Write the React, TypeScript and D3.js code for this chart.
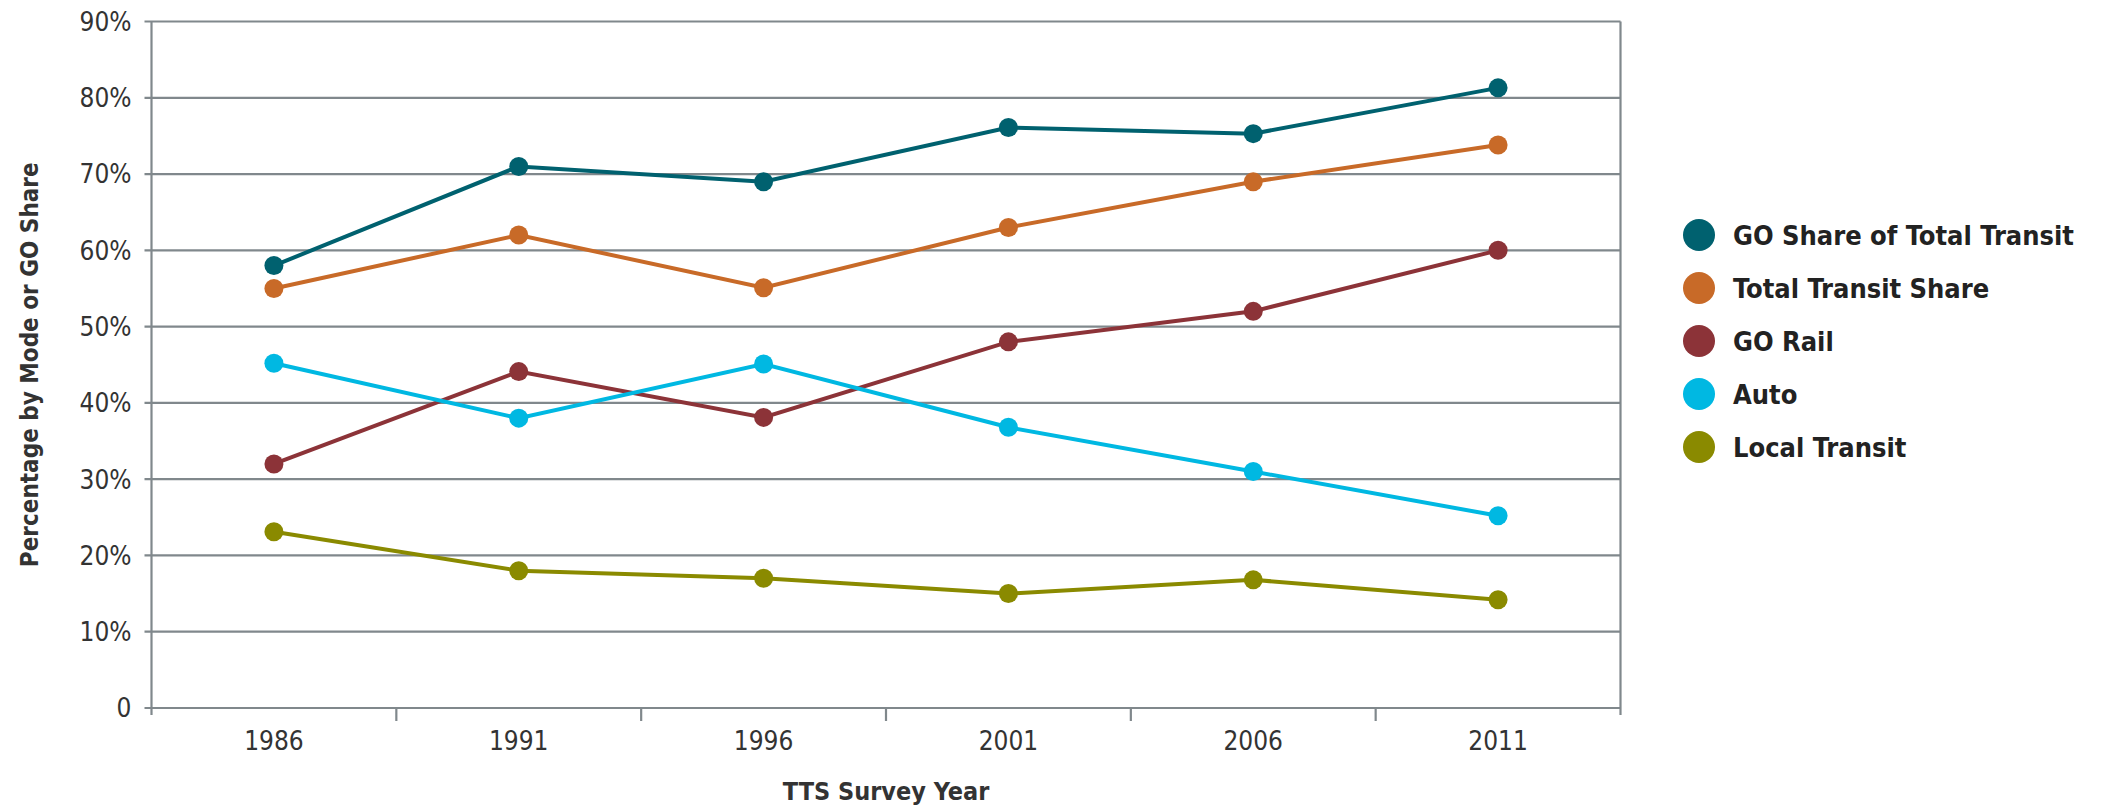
import React from "react";
import * as d3 from "d3";

const years = ["1986", "1991", "1996", "2001", "2006", "2011"];
const goShare = [58, 71, 69, 76.1, 75.3, 81.3];
const totalTransit = [55, 62, 55.1, 63, 69, 73.8];
const goRail = [32, 44.1, 38.1, 48, 52, 60];
const auto = [45.2, 38, 45.1, 36.8, 31, 25.2];
const localTransit = [23.1, 18, 17, 15, 16.8, 14.2];
const yTicks = [0, 10, 20, 30, 40, 50, 60, 70, 80, 90];

const seriesNames = ["GO Share of Total Transit", "Total Transit Share", "GO Rail", "Auto", "Local Transit"];
const seriesColors = ["#00616f", "#c86a28", "#8c3338", "#00b8e2", "#8a8a00"];
const seriesValues = [goShare, totalTransit, goRail, auto, localTransit];

const W = 2103;
const H = 807;
const left = 151.5;
const right = 1620.5;
const top = 21.5;
const bottom = 708;
const font = "'DejaVu Sans Condensed', 'Liberation Sans Narrow', sans-serif";
const gridColor = "#80888c";

export default function App() {
  const x = d3.scaleBand<string>().domain(years).range([left, right]).padding(0);
  const y = d3.scaleLinear().domain([0, 90]).range([bottom, top]);
  const cx = (yr: string) => (x(yr) as number) + x.bandwidth() / 2;
  const line = d3
    .line<number>()
    .x((_, i) => cx(years[i]))
    .y((d) => y(d));
  const bandEdges = years.map((yr) => x(yr) as number).concat([right]);

  return (
    <svg width={W} height={H} style={{ position: "absolute", left: 0, top: 0, background: "#fff" }}>
      {yTicks.map((t) => (
        <g key={t}>
          <line x1={left - 7} x2={right} y1={y(t)} y2={y(t)} stroke={gridColor} strokeWidth={2.2} />
          <text
            x={left - 20}
            y={y(t)}
            dy="0.36em"
            textAnchor="end"
            fontFamily={font}
            fontSize={26}
            fill="#333"
          >
            {t === 0 ? "0" : `${t}%`}
          </text>
        </g>
      ))}
      <line x1={left} x2={left} y1={top} y2={bottom + 7} stroke={gridColor} strokeWidth={2.2} />
      <line x1={right} x2={right} y1={top} y2={bottom + 7} stroke={gridColor} strokeWidth={2.2} />
      {bandEdges.slice(1, -1).map((e, i) => (
        <line key={i} x1={e} x2={e} y1={bottom} y2={bottom + 13} stroke={gridColor} strokeWidth={2.2} />
      ))}
      {years.map((yr) => (
        <text key={yr} x={cx(yr)} y={bottom + 42} textAnchor="middle" fontFamily={font} fontSize={26} fill="#333">
          {yr}
        </text>
      ))}
      <text
        x={(left + right) / 2}
        y={800}
        textAnchor="middle"
        fontFamily={font}
        fontSize={25}
        fontWeight="bold"
        fill="#333"
      >
        TTS Survey Year
      </text>
      <text
        transform={`translate(30, ${(top + bottom) / 2}) rotate(-90)`}
        textAnchor="middle"
        dy="0.35em"
        fontFamily={font}
        fontSize={24}
        fontWeight="bold"
        fill="#333"
      >
        Percentage by Mode or GO Share
      </text>
      {seriesValues.map((vals, si) => (
        <g key={si}>
          <path d={line(vals) as string} fill="none" stroke={seriesColors[si]} strokeWidth={4} />
          {vals.map((v, i) => (
            <circle key={i} cx={cx(years[i])} cy={y(v)} r={9.5} fill={seriesColors[si]} />
          ))}
        </g>
      ))}
      {seriesNames.map((n, i) => (
        <g key={n} transform={`translate(1699, ${235 + i * 53})`}>
          <circle r={16} fill={seriesColors[i]} />
          <text x={34} dy="0.36em" fontFamily={font} fontSize={27} fontWeight="bold" fill="#222">
            {n}
          </text>
        </g>
      ))}
    </svg>
  );
}
